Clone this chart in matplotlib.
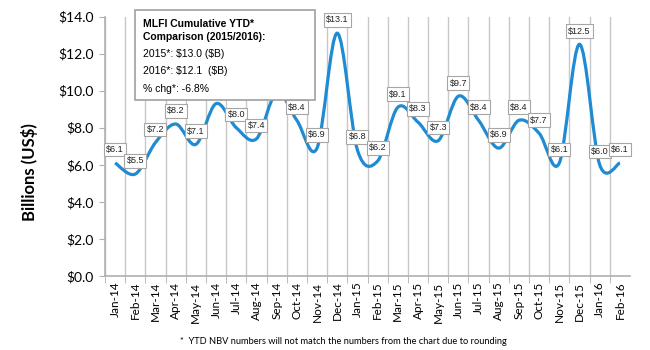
import matplotlib
matplotlib.use("Agg")
import matplotlib.pyplot as plt
from matplotlib.path import Path
from matplotlib.patches import PathPatch, Rectangle
import numpy as np

months = ["Jan-14", "Feb-14", "Mar-14", "Apr-14", "May-14", "Jun-14", "Jul-14",
          "Aug-14", "Sep-14", "Oct-14", "Nov-14", "Dec-14", "Jan-15", "Feb-15",
          "Mar-15", "Apr-15", "May-15", "Jun-15", "Jul-15", "Aug-15", "Sep-15",
          "Oct-15", "Nov-15", "Dec-15", "Jan-16", "Feb-16"]
nbv = [6.1, 5.5, 7.2, 8.2, 7.1, 9.3, 8.0, 7.4, 9.9, 8.4, 6.9, 13.1, 6.8,
       6.2, 9.1, 8.3, 7.3, 9.7, 8.4, 6.9, 8.4, 7.7, 6.1, 12.5, 6.0, 6.1]
yticks = [0, 2, 4, 6, 8, 10, 12, 14]
box_title = "MLFI Cumulative YTD*\nComparison (2015/2016):"
box_lines = [r"2015*: \$13.0 (\$B)", r"2016*: \$12.1  (\$B)", "% chg*: -6.8%"]
footnote = "*  YTD NBV numbers will not match the numbers from the chart due to rounding"

W, H = 650, 350
def fx(px):
    return px / W
def fy(py):
    return 1 - py / H

fig = plt.figure(figsize=(6.5, 3.5), dpi=100)
ax = fig.add_axes([fx(105), fy(276), fx(630) - fx(105), fy(16.5) - fy(276)])

x = np.arange(len(nbv))
y = np.array(nbv)

# smoothed line (Excel-style bezier through the points)
verts = [(x[0], y[0])]
codes = [Path.MOVETO]
n = len(x)
for i in range(n - 1):
    p0 = np.array([x[max(i - 1, 0)], y[max(i - 1, 0)]])
    p1 = np.array([x[i], y[i]])
    p2 = np.array([x[i + 1], y[i + 1]])
    p3 = np.array([x[min(i + 2, n - 1)], y[min(i + 2, n - 1)]])
    c1 = p1 + (p2 - p0) / 6
    c2 = p2 - (p3 - p1) / 6
    verts += [tuple(c1), tuple(c2), tuple(p2)]
    codes += [Path.CURVE4] * 3
ax.add_patch(PathPatch(Path(verts, codes), facecolor="none",
                       edgecolor="#1E8BD3", lw=2.3, zorder=3))

for xi, yi in zip(x, y):
    ax.annotate(f"${yi:.1f}", (xi, yi), xytext=(0, 9.5), textcoords="offset points",
                ha="center", va="center", fontsize=6.5, family="Liberation Sans",
                color="#222222", zorder=4,
                bbox=dict(boxstyle="square,pad=0.25", fc="white", ec="#a6a6a6", lw=0.8))

ax.set_xlim(-0.5, len(nbv) - 0.5)
ax.set_ylim(0, 14)
ax.set_yticks(yticks)
ax.set_yticklabels([f"${v:.1f}" for v in yticks], family="Lato", fontsize=10)
ax.set_xticks(x)
ax.set_xticklabels(months, rotation=90, family="Lato", fontsize=8.5)
ax.set_xticks(np.arange(-0.5, len(nbv) - 0.5, 1), minor=True)
ax.tick_params(axis="x", which="major", length=0, pad=4)
ax.tick_params(axis="x", which="minor", length=5, direction="out", color="#b0b0b0")
ax.tick_params(axis="y", length=4, direction="out", color="#b0b0b0", pad=4)
ax.grid(True, axis="x", which="minor", color="#c8c8c8", lw=1)
ax.set_axisbelow(True)
for s in ["top", "right"]:
    ax.spines[s].set_visible(False)
for s in ["left", "bottom"]:
    ax.spines[s].set_color("#b0b0b0")
    ax.spines[s].set_linewidth(1.2)

fig.text(fx(30), fy(172), "Billions (US$)", rotation=90, ha="center", va="center",
         family="Lato", fontweight="bold", fontsize=12)

# summary box
fig.add_artist(Rectangle((fx(135), fy(100)), fx(315) - fx(135), fy(10) - fy(100),
                         transform=fig.transFigure, fc="white", ec="#a0a0a0", lw=1.2,
                         zorder=5))
fig.text(fx(143), fy(30.5), box_title, ha="left", va="center", family="Liberation Sans",
         fontweight="bold", fontsize=7.5, linespacing=1.45, zorder=6)
for i, line in enumerate(box_lines):
    fig.text(fx(143), fy(54 + 17.5 * i), line, ha="left", va="center",
             family="Liberation Sans", fontsize=7.5, zorder=6)

fig.text(fx(180), fy(341), footnote, ha="left", va="center", family="Lato", fontsize=6.7)

fig.savefig("out.png", dpi=100)
